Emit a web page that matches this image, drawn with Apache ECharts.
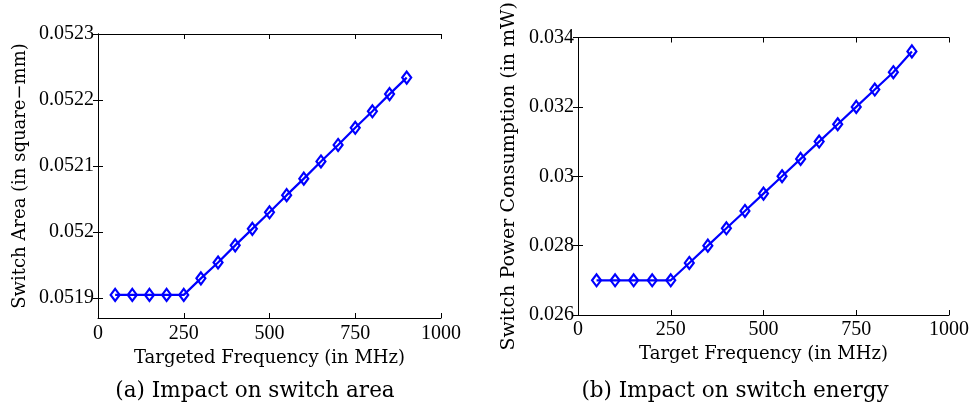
<!DOCTYPE html>
<html>
<head>
<meta charset="UTF-8">
<script src="https://cdn.jsdelivr.net/npm/echarts@6/dist/echarts.min.js"></script>
<style>
  html, body { margin: 0; padding: 0; background: #fff; }
  #main { width: 974px; height: 406px; }
</style>
</head>
<body>
<div id="main"></div>
<script>
// target frequencies (MHz)
var freq = [50, 100, 150, 200, 250, 300, 350, 400, 450, 500, 550, 600, 650, 700, 750, 800, 850, 900];
// (a) switch area, square-mm
var areaVals = [0.051905, 0.051905, 0.051905, 0.051905, 0.051905, 0.05193, 0.051954, 0.05198, 0.052005,
  0.05203, 0.052056, 0.052081, 0.052107, 0.052132, 0.052158, 0.052183, 0.052209, 0.052234];
// (b) switch power, mW
var powerVals = [0.0270, 0.0270, 0.0270, 0.0270, 0.0270, 0.0275, 0.0280, 0.0285, 0.0290,
  0.0295, 0.0300, 0.0305, 0.0310, 0.0315, 0.0320, 0.0325, 0.0330, 0.0336];
var xTicks = [0, 250, 500, 750, 1000];
var areaTicks = [0.0519, 0.052, 0.0521, 0.0522, 0.0523];
var powerTicks = [0.026, 0.028, 0.03, 0.032, 0.034];

var FONT = 'Liberation Serif';
var NFONT = 'DejaVu Serif';
var BLUE = '#0000ff';

function pairs(xs, ys) {
  return xs.map(function (x, i) { return [x, ys[i]]; });
}

function plain(v) { return String(v); }

function xAxes(gi, name, gap, margin, fs) {
  return [{
    type: 'value', gridIndex: gi, min: 0, max: 1000,
    name: name, nameLocation: 'middle', nameGap: gap,
    nameTextStyle: { fontFamily: NFONT, fontSize: fs, color: '#000' },
    axisLine: { lineStyle: { color: '#000', width: 1 } },
    axisTick: { inside: true, length: 5, customValues: xTicks, lineStyle: { color: '#000' } },
    axisLabel: { customValues: xTicks, formatter: plain, fontFamily: FONT, fontSize: 20, color: '#000', margin: margin },
    splitLine: { show: false }
  }, {
    type: 'value', gridIndex: gi, position: 'top', min: 0, max: 1000,
    axisLine: { lineStyle: { color: '#000', width: 1 } },
    axisTick: { inside: true, length: 5, customValues: xTicks, lineStyle: { color: '#000' } },
    axisLabel: { show: false },
    splitLine: { show: false }
  }];
}

function yAxes(gi, name, min, max, ticks, gap, fs) {
  return [{
    type: 'value', gridIndex: gi, min: min, max: max,
    name: name, nameLocation: 'middle', nameGap: gap, nameRotate: 90,
    nameTextStyle: { fontFamily: NFONT, fontSize: fs, color: '#000' },
    axisLine: { lineStyle: { color: '#000', width: 1 } },
    axisTick: { inside: true, length: 5, customValues: ticks, lineStyle: { color: '#000' } },
    axisLabel: { customValues: ticks, formatter: plain, fontFamily: FONT, fontSize: 20, color: '#000', margin: 4 },
    splitLine: { show: false }
  }, {
    type: 'value', gridIndex: gi, position: 'right', min: min, max: max,
    axisLine: { lineStyle: { color: '#000', width: 1 } },
    axisTick: { inside: true, length: 5, customValues: ticks, lineStyle: { color: '#000' } },
    axisLabel: { show: false },
    splitLine: { show: false }
  }];
}

function lineSeries(xi, yi, data) {
  return {
    type: 'line', xAxisIndex: xi, yAxisIndex: yi, data: data,
    symbol: 'diamond', symbolSize: [9, 12], showAllSymbol: true,
    lineStyle: { color: BLUE, width: 2.2 },
    itemStyle: { color: 'rgba(0,0,0,0)', borderColor: BLUE, borderWidth: 2.2 },
    emphasis: { disabled: true }
  };
}

var chart = echarts.init(document.getElementById('main'), null, { renderer: 'canvas' });
chart.setOption({
  animation: false,
  backgroundColor: '#fff',
  title: [
    { text: '(a) Impact on switch area', left: 250, top: 375, textAlign: 'center',
      textStyle: { fontFamily: NFONT, fontSize: 21.5, fontWeight: 'normal', color: '#000' } },
    { text: '(b) Impact on switch energy', left: 730, top: 375, textAlign: 'center',
      textStyle: { fontFamily: NFONT, fontSize: 21.5, fontWeight: 'normal', color: '#000' } }
  ],
  grid: [
    { left: 98, top: 34, width: 343, height: 284 },
    { left: 578, top: 35, width: 371, height: 280 }
  ],
  xAxis: xAxes(0, 'Targeted Frequency (in MHz)', 28, 6, 18).concat(xAxes(1, 'Target Frequency (in MHz)', 25, 5, 18)),
  yAxis: yAxes(0, 'Switch Area (in square\u2212mm)', 0.05187, 0.0523, areaTicks, 69, 18)
    .concat(yAxes(1, 'Switch Power Consumption (in mW)', 0.026, 0.034, powerTicks, 59, 19)),
  series: [
    lineSeries(0, 0, pairs(freq, areaVals)),
    lineSeries(2, 2, pairs(freq, powerVals))
  ]
});
</script>
</body>
</html>
